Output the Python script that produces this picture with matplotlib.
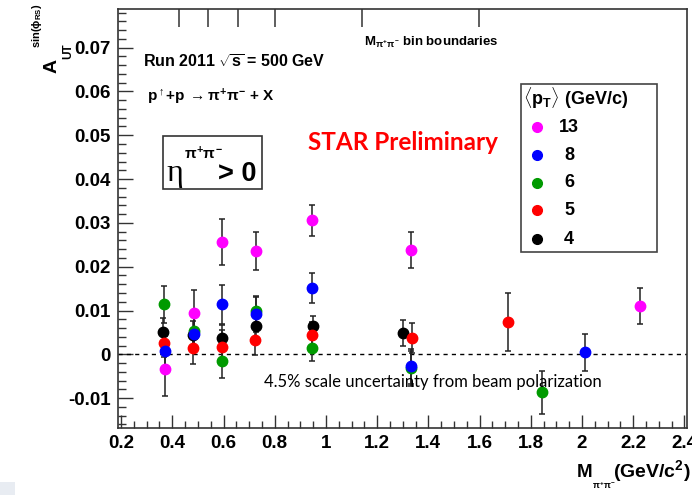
import matplotlib
matplotlib.use("Agg")
import matplotlib.pyplot as plt
from matplotlib.patches import Rectangle
from matplotlib.lines import Line2D
from matplotlib.ticker import MultipleLocator, FuncFormatter

plt.rcParams['font.family'] = ['Liberation Sans', 'DejaVu Sans']
plt.rcParams['font.weight'] = 'bold'
plt.rcParams['mathtext.fontset'] = 'custom'
plt.rcParams['mathtext.rm'] = 'Liberation Sans:bold'
plt.rcParams['mathtext.it'] = 'Liberation Sans:bold'
plt.rcParams['mathtext.bf'] = 'Liberation Sans:bold'
plt.rcParams['mathtext.sf'] = 'Liberation Sans:bold'

W, H = 692, 495

# <pT> bins (GeV/c) and marker colours
pt_labels = ['13', '8', '6', '5', '4']
pt_colors = ['#ff00ff', '#0000ff', '#009a00', '#ff0000', '#000000']

# invariant mass (GeV/c^2), asymmetry and statistical error per <pT> bin
m_13 = [0.371, 0.484, 0.594, 0.726, 0.946, 1.334, 2.225]
a_13 = [-0.0033, 0.0094, 0.0257, 0.0236, 0.0306, 0.0238, 0.0110]
e_13 = [0.0062, 0.0053, 0.0052, 0.0043, 0.0035, 0.0042, 0.0041]

m_8 = [0.370, 0.483, 0.594, 0.726, 0.945, 1.333, 2.010]
a_8 = [0.0007, 0.0046, 0.0114, 0.0091, 0.0152, -0.0027, 0.00045]
e_8 = [0.0036, 0.0040, 0.0044, 0.0040, 0.0034, 0.0040, 0.0043]

m_6 = [0.369, 0.483, 0.594, 0.725, 0.945, 1.333, 1.842]
a_6 = [0.0114, 0.0054, -0.0014, 0.0099, 0.0015, -0.0032, -0.0086]
e_6 = [0.0042, 0.0040, 0.0039, 0.0034, 0.0030, 0.0040, 0.0049]

m_5 = [0.368, 0.482, 0.593, 0.724, 0.946, 1.337, 1.710]
a_5 = [0.0025, 0.0015, 0.0017, 0.0033, 0.0044, 0.0038, 0.0074]
e_5 = [0.0030, 0.0037, 0.0038, 0.0034, 0.0030, 0.0034, 0.0067]

m_4 = [0.362, 0.482, 0.594, 0.726, 0.948, 1.302]
a_4 = [0.0052, 0.0045, 0.0037, 0.0065, 0.0065, 0.0048]
e_4 = [0.0031, 0.0030, 0.0030, 0.0030, 0.0023, 0.0030]

# M(pi+pi-) bin boundaries marked on the top axis
bin_edges = [0.427, 0.540, 0.655, 0.800, 1.139, 1.596]


def fxy(px, py):
    return px / W, 1 - py / H


fig = plt.figure(figsize=(W / 100, H / 100), dpi=100)
fig.patch.set_facecolor('white')
fig.add_artist(Rectangle(fxy(0, 495), 15 / W, 13 / H, transform=fig.transFigure,
                         facecolor='#e8ecf2', edgecolor='none'))

ax = fig.add_axes([118 / W, 1 - 428 / H, 569 / W, 419 / H])
ax.set_xlim(0.188, 2.41)
ax.set_ylim(-0.0168, 0.0788)

series = [
    (m_4, a_4, e_4, pt_colors[4]),
    (m_5, a_5, e_5, pt_colors[3]),
    (m_6, a_6, e_6, pt_colors[2]),
    (m_8, a_8, e_8, pt_colors[1]),
    (m_13, a_13, e_13, pt_colors[0]),
]
for m, a, e, c in series:
    ax.errorbar(m, a, yerr=e, fmt='o', color=c, mec=c, ms=7.5,
                ecolor='#222222', elinewidth=1.1, capsize=2.5, capthick=1.1,
                zorder=3)

ax.axhline(0, color='black', lw=1.0, ls=(0, (3, 3)), zorder=2)

# bin boundary ticks hanging from the top frame
ax.vlines(bin_edges, 1 - 17.7 / 419, 1, transform=ax.get_xaxis_transform(),
          colors='#333333', lw=1.1)

ax.xaxis.set_major_locator(MultipleLocator(0.2))
ax.xaxis.set_minor_locator(MultipleLocator(0.05))
ax.yaxis.set_major_locator(MultipleLocator(0.01))
ax.yaxis.set_minor_locator(MultipleLocator(0.002))
fmt = FuncFormatter(lambda v, p: f"{round(v, 6):g}")
ax.xaxis.set_major_formatter(fmt)
ax.yaxis.set_major_formatter(fmt)
ax.tick_params(which='both', direction='in', top=False, right=False, color='#333333')
ax.tick_params(axis='x', which='major', length=9.5, width=1, labelsize=13.5, pad=5)
ax.tick_params(axis='x', which='minor', length=5, width=1)
ax.tick_params(axis='y', which='major', length=11, width=1, labelsize=13.5, pad=5)
ax.tick_params(axis='y', which='minor', length=6, width=1)
for s in ax.spines.values():
    s.set_color('#333333')
    s.set_linewidth(1.2)

# y axis title: A, subscript UT, superscript sin(phi_RS)
fig.text(*fxy(52, 73), "A", rotation=90, ha='center', va='bottom', fontsize=14)
fig.text(*fxy(68, 59), "UT", rotation=90, ha='center', va='bottom', fontsize=8.5)
fig.text(*fxy(37, 48), r"sin($\phi_{RS}$)", rotation=90, ha='center',
         va='bottom', fontsize=8)

# x axis title
fig.text(*fxy(691, 477), r"(GeV/c$^{2}$)", ha='right', va='baseline', fontsize=14)
fig.text(*fxy(577, 477), "M", ha='left', va='baseline', fontsize=13.5)
fig.text(*fxy(592, 489), r"$\pi^{+}\pi^{-}$", ha='left', va='baseline', fontsize=6.5)

# run information
fig.text(*fxy(143, 68), r"Run 2011 $\sqrt{s}$ = 500 GeV", ha='left',
         va='baseline', fontsize=11.5)
fig.text(*fxy(147, 101), r"p$^{\uparrow}$+p$\,\rightarrow\pi^{+}\pi^{-}$ + X",
         ha='left', va='baseline', fontsize=11)
fig.text(*fxy(364, 46), r"M$_{\pi^{+}\pi^{-}}$ bin boundaries", ha='left',
         va='baseline', fontsize=9.5)

# pseudorapidity selection box
fig.add_artist(Rectangle(fxy(163, 189), 99 / W, 53 / H, transform=fig.transFigure,
                         facecolor='none', edgecolor='#333333', lw=1.2))
fig.text(*fxy(166, 181), "η", ha='left', va='baseline', fontsize=23,
         family=['Liberation Serif', 'DejaVu Serif'], fontweight='normal')
fig.text(*fxy(184, 159), r"$\pi^{+}\pi^{-}$", ha='left', va='baseline', fontsize=11)
fig.text(*fxy(218, 181), "> 0", ha='left', va='baseline', fontsize=19.5)

fig.text(*fxy(403, 143), "STAR Preliminary", color='#ff0000', ha='center',
         va='center', fontsize=17.5, family=['Lato', 'DejaVu Sans'], fontweight='bold')
fig.text(*fxy(433, 382), "4.5% scale uncertainty from beam polarization",
         ha='center', va='center', fontsize=12, family=['Lato', 'DejaVu Sans'],
         fontweight='normal')

# legend box for the <pT> bins
fig.add_artist(Rectangle(fxy(521, 252), 136 / W, 168 / H, transform=fig.transFigure,
                         facecolor='white', edgecolor='#444444', lw=1.2, zorder=5))
fig.text(*fxy(523, 98), r"$\langle$p$_{T}\rangle$ (GeV/c)", ha='left',
         va='center', fontsize=13, zorder=6)
leg_y = [127, 155, 183, 210, 239]
for lab, c, py in zip(pt_labels, pt_colors, leg_y):
    fx, fy = fxy(537, py)
    fig.add_artist(Line2D([fx], [fy], marker='o', ms=7, color=c, mec=c,
                          transform=fig.transFigure, zorder=6))
    fig.text(*fxy(569, py), lab, ha='center', va='center', fontsize=13, zorder=6)

fig.savefig('out.png', dpi=100)
